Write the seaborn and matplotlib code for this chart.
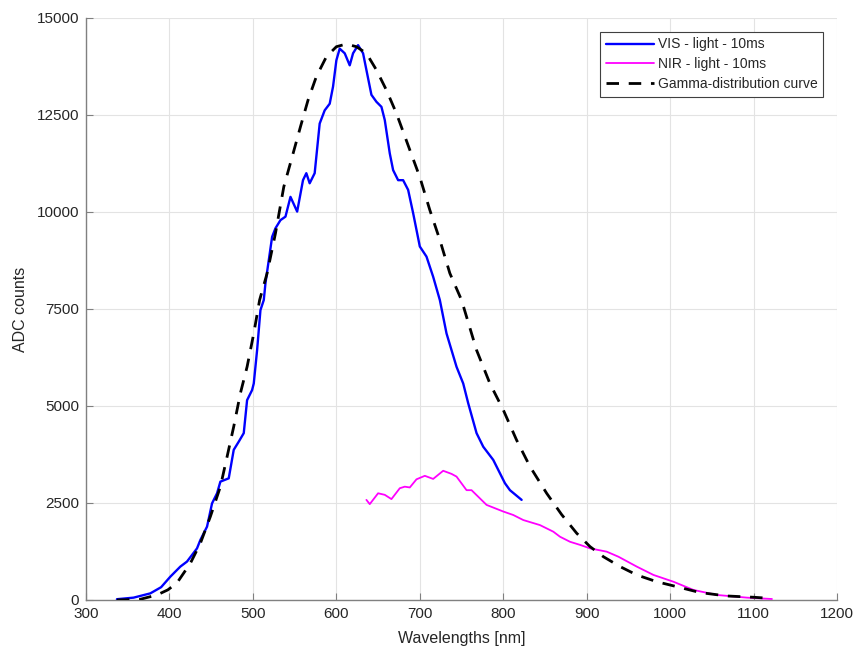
import matplotlib
matplotlib.use("Agg")
import matplotlib.pyplot as plt
import seaborn as sns
import pandas as pd

# ---- data ----
vis_x = [337, 357, 377, 390, 401, 413, 421, 433, 437, 445, 451, 457, 461, 471, 477, 483,
         489, 493, 499, 501, 505, 509, 513, 515, 523, 527, 533, 539, 545, 553, 560, 564,
         568, 574, 580, 586, 592, 596, 600, 604, 610, 616, 620, 626, 632, 636, 642, 648,
         654, 658, 664, 668, 674, 680, 686, 692, 700, 708, 716, 724, 732, 744, 752, 758,
         768, 776, 788, 802, 808, 822]
vis_y = [20, 60, 170, 330, 600, 860, 990, 1330, 1546, 1890, 2490, 2750, 3050, 3135, 3870, 4080,
         4300, 5150, 5410, 5580, 6440, 7470, 7730, 8160, 9360, 9580, 9790, 9880, 10390, 10010, 10820, 11000,
         10740, 11000, 12280, 12620, 12790, 13230, 13910, 14210, 14090, 13780, 14090, 14300, 14090, 13660, 13020, 12840,
         12710, 12370, 11510, 11080, 10820, 10820, 10570, 9970, 9110, 8850, 8330, 7730, 6870, 6010, 5580, 5070,
         4300, 3950, 3610, 3010, 2830, 2580]

nir_x = [636, 640, 650, 658, 666, 676, 682, 688, 696, 706, 716, 728, 738, 744, 756, 762,
         780, 800, 812, 824, 844, 860, 868, 880, 892, 904, 924, 938, 960, 980, 1004, 1028,
         1056, 1092, 1122]
nir_y = [2580, 2470, 2750, 2710, 2600, 2880, 2920, 2900, 3110, 3200, 3120, 3330, 3250, 3180, 2830, 2830,
         2450, 2280, 2190, 2060, 1930, 1760, 1630, 1500, 1420, 1330, 1245, 1115, 860, 645, 470, 258,
         129, 60, 25]

gam_x = [337, 357, 365, 385, 398, 409, 425, 437, 449, 461, 469, 477, 485, 493, 501, 508,
         517, 527, 537, 547, 557, 566, 576, 588, 600, 612, 624, 636, 648, 660, 672, 688,
         700, 712, 724, 736, 750, 756, 768, 784, 800, 816, 832, 852, 870, 888, 904, 920,
         940, 960, 984, 1008, 1036, 1068, 1100, 1118]
gam_y = [0, 10, 18, 129, 260, 440, 945, 1460, 2150, 2920, 3690, 4470, 5330, 6010, 6870, 7730,
         8420, 9450, 10650, 11420, 12200, 12880, 13490, 14000, 14260, 14330, 14260, 14090, 13660, 13140, 12540, 11600,
         10900, 10050, 9280, 8420, 7730, 7300, 6440, 5580, 4900, 4120, 3440, 2750, 2200, 1720, 1375, 1115,
         860, 645, 470, 343, 190, 103, 70, 44]

x_ticks = [300, 400, 500, 600, 700, 800, 900, 1000, 1100, 1200]
y_ticks = [0, 2500, 5000, 7500, 10000, 12500, 15000]

labels = ["VIS - light - 10ms", "NIR - light - 10ms", "Gamma-distribution curve"]

# ---- style ----
sns.set_theme(style="whitegrid")
plt.rcParams['font.family'] = ['Liberation Sans', 'DejaVu Sans']

fig = plt.figure(figsize=(8.57, 6.52), dpi=100)
ax = fig.add_axes([0.1004, 0.0798, 0.8763, 0.8926])

df_vis = pd.DataFrame({"x": vis_x, "y": vis_y})
df_nir = pd.DataFrame({"x": nir_x, "y": nir_y})
df_gam = pd.DataFrame({"x": gam_x, "y": gam_y})

sns.lineplot(data=df_vis, x="x", y="y", ax=ax, color="#0000ff", linewidth=1.7,
             sort=False, label=labels[0], zorder=3)
sns.lineplot(data=df_nir, x="x", y="y", ax=ax, color="#ff00ff", linewidth=1.3,
             sort=False, label=labels[1], zorder=3)
sns.lineplot(data=df_gam, x="x", y="y", ax=ax, color="black", linewidth=2.0,
             sort=False, label=labels[2], zorder=4)
ax.lines[-1].set_dashes([4.5, 3.5])

ax.set_xlim(300, 1200)
ax.set_ylim(0, 15000)
ax.set_xticks(x_ticks)
ax.set_yticks(y_ticks)
ax.set_xticklabels([str(v) for v in x_ticks])
ax.set_yticklabels([str(v) for v in y_ticks])

ax.set_facecolor("white")
ax.grid(True, color="#e3e3e3", linewidth=0.8)
for side in ["top", "right"]:
    ax.spines[side].set_visible(False)
for side in ["left", "bottom"]:
    ax.spines[side].set_visible(True)
    ax.spines[side].set_color("#808080")
    ax.spines[side].set_linewidth(1.0)

ax.tick_params(axis="both", which="major", direction="in", length=5, width=0.8,
               color="#808080", labelsize=11, labelcolor="#262626", pad=5,
               bottom=True, left=True)

ax.set_xlabel("Wavelengths [nm]", fontsize=11.5, color="#262626", labelpad=7)
ax.set_ylabel("ADC counts", fontsize=11.5, color="#262626", labelpad=6)

leg = ax.legend(loc="upper right", fontsize=10, frameon=True, fancybox=False,
                edgecolor="#404040", framealpha=1, borderpad=0.4, labelspacing=0.42,
                handlelength=3.5, handletextpad=0.25, borderaxespad=1.0)
leg.get_frame().set_linewidth(0.8)

fig.savefig("out.png", dpi=100, facecolor="white")
